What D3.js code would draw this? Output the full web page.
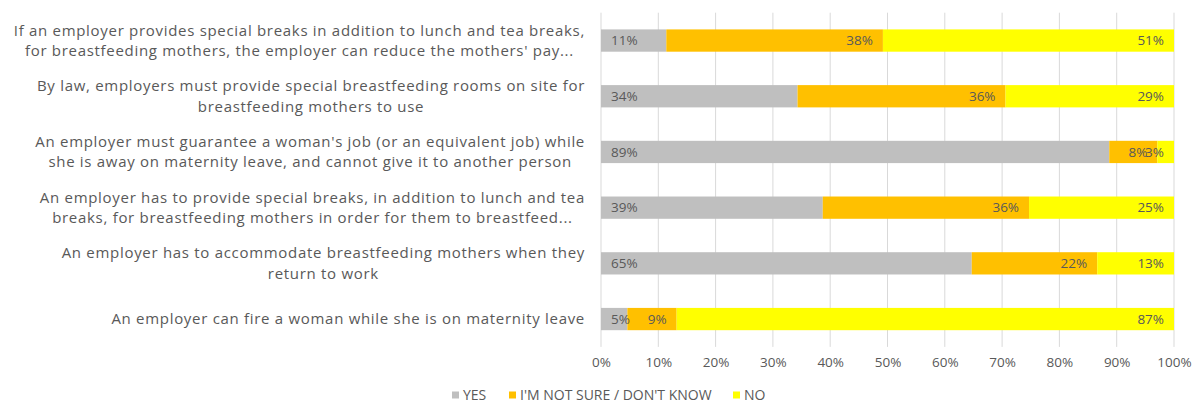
<!DOCTYPE html>
<html>
<head>
<meta charset="utf-8">
<script src="https://cdn.jsdelivr.net/npm/d3@7"></script>
<style>
  body { margin: 0; background: #fff; }
  svg { display: block; font-family: "Open Sans", sans-serif; }
</style>
</head>
<body>
<svg id="chart" width="1193" height="403"></svg>
<script>
// data (percent of respondents)
const categories = [
  ["If an employer provides special breaks in addition to lunch and tea breaks,", "for breastfeeding mothers, the employer can reduce the mothers' pay..."],
  ["By law, employers must provide special breastfeeding rooms on site for", "breastfeeding mothers to use"],
  ["An employer must guarantee a woman's job (or an equivalent job) while", "she is away on maternity leave, and cannot give it to another person"],
  ["An employer has to provide special breaks, in addition to lunch and tea", "breaks, for breastfeeding mothers in order for them to breastfeed..."],
  ["An employer has to accommodate breastfeeding mothers when they", "return to work"],
  ["An employer can fire a woman while she is on maternity leave"]
]
const seriesNames = ["YES", "I'M NOT SURE / DON'T KNOW", "NO"]
const yesValues = [11.4, 34.3, 88.7, 38.7, 64.7, 4.6]
const notSureValues = [37.8, 36.3, 8.4, 36.0, 21.9, 8.6]
const noValues = [50.8, 29.4, 2.9, 25.3, 13.4, 86.8]
const xTicks = [0, 10, 20, 30, 40, 50, 60, 70, 80, 90, 100]

const colors = ["#BFBFBF", "#FFC000", "#FFFF00"]
const textColor = "#595959"

const plotLeft = 601, plotRight = 1174, plotTop = 12.7, plotBottom = 346.9

const svg = d3.select("#chart")

//  scales
const xScale = d3.scaleLinear().domain([0, 100]).range([plotLeft, plotRight])
const yScale = d3.scaleBand()
                 .domain(d3.range(categories.length))
                 .range([plotTop, plotBottom])
                 .paddingInner(0.6)
                 .paddingOuter(0.3)

//  gridlines
svg.append("g")
   .selectAll("line")
   .data(xTicks)
   .join("line")
   .attr("x1", d => xScale(d)).attr("x2", d => xScale(d))
   .attr("y1", plotTop).attr("y2", plotBottom)
   .attr("stroke", "#D9D9D9")
   .attr("stroke-width", 1)

//  x axis labels
const xAxis = d3.axisBottom(xScale)
                .tickValues(xTicks)
                .tickSize(0)
                .tickPadding(0)
                .tickFormat(d => d + "%")
const gx = svg.append("g")
   .attr("transform", `translate(0,${plotBottom + 11})`)
   .call(xAxis)
gx.select(".domain").remove()
gx.selectAll("text")
  .attr("fill", textColor)
  .attr("font-size", 13.5)
  .attr("font-family", "Open Sans, sans-serif")

//  stacked bars
const rows = categories.map((c, i) => ({ i, values: [yesValues[i], notSureValues[i], noValues[i]] }))
const stack = d3.stack().keys([0, 1, 2]).value((d, k) => d.values[k])
const layers = stack(rows)

const layerG = svg.append("g")
  .selectAll("g")
  .data(layers)
  .join("g")
  .attr("fill", (d, k) => colors[k])

layerG.selectAll("rect")
  .data(d => d)
  .join("rect")
  .attr("x", d => xScale(d[0]))
  .attr("width", d => xScale(d[1]) - xScale(d[0]))
  .attr("y", d => yScale(d.data.i))
  .attr("height", yScale.bandwidth())

//  data labels: YES at inside base, others at inside end
const labelG = svg.append("g")
   .attr("font-size", 13.5)
   .attr("fill", textColor)
layers.forEach((layer, k) => {
  labelG.selectAll(null)
    .data(layer)
    .join("text")
    .attr("x", d => k === 0 ? xScale(d[0]) + 10 : xScale(d[1]) - 10)
    .attr("text-anchor", k === 0 ? "start" : "end")
    .attr("y", d => yScale(d.data.i) + yScale.bandwidth() / 2)
    .attr("dy", "0.35em")
    .text(d => Math.round(d[1] - d[0]) + "%")
})

//  category labels, wrapped lines centred in a block right aligned to the axis
const catG = svg.append("g")
   .attr("font-size", 15)
   .attr("letter-spacing", "0.7px")
   .attr("fill", textColor)
const lineH = 20.5
categories.forEach((lines, i) => {
  const cy = yScale(i) + yScale.bandwidth() / 2
  const spans = lines.map((ln, j) =>
    catG.append("text")
     .attr("text-anchor", "middle")
     .attr("y", cy + (j - (lines.length - 1) / 2) * lineH)
     .attr("dy", "0.35em")
     .text(ln))
  const w = d3.max(spans, s => s.node().getComputedTextLength())
  spans.forEach(s => s.attr("x", plotLeft - 16 - w / 2))
})

//  legend
const legend = svg.append("g")
   .attr("font-size", 14)
   .attr("fill", textColor)
const legendX = [452, 509, 733]
seriesNames.forEach((name, k) => {
  legend.append("rect")
    .attr("x", legendX[k]).attr("y", 391.5)
    .attr("width", 7).attr("height", 7)
    .attr("fill", colors[k])
  legend.append("text")
    .attr("x", legendX[k] + 11)
    .attr("y", 395)
    .attr("dy", "0.35em")
    .text(name)
})
</script>
</body>
</html>
